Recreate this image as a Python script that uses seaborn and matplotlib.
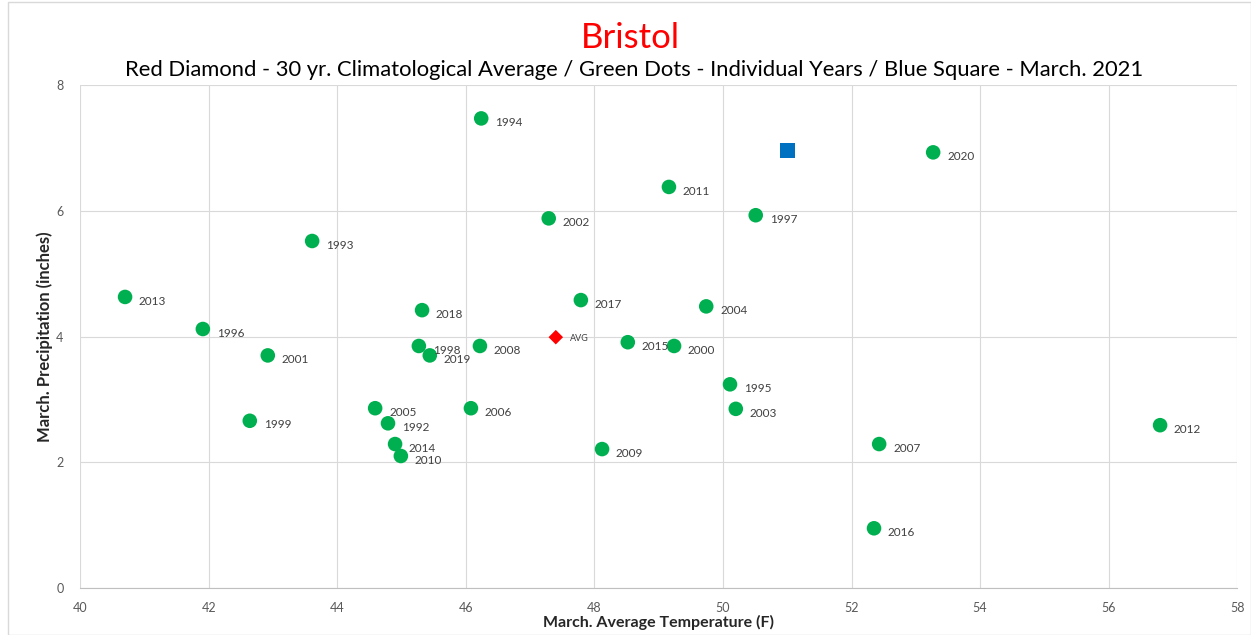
import numpy as np
import pandas as pd
import matplotlib
matplotlib.use("Agg")
import matplotlib.pyplot as plt
import seaborn as sns

# individual years (March avg temp F, March precip inches)
years = [1994, 2020, 2011, 1997, 2002, 1993, 2013, 2017, 2004, 2018, 1996,
         2015, 1998, 2008, 2000, 2019, 2001, 1995, 2006, 2005, 2003, 1999,
         1992, 2012, 2014, 2007, 2009, 2010, 2016]
temps = [46.24, 53.27, 49.16, 50.51, 47.29, 43.61, 40.70, 47.79, 49.74, 45.32, 41.91,
         48.52, 45.27, 46.22, 49.24, 45.44, 42.92, 50.11, 46.08, 44.59, 50.20, 42.64,
         44.79, 56.80, 44.90, 52.43, 48.12, 44.99, 52.35]
precip = [7.47, 6.93, 6.38, 5.93, 5.88, 5.52, 4.63, 4.58, 4.48, 4.42, 4.12,
          3.91, 3.85, 3.85, 3.85, 3.70, 3.70, 3.24, 2.86, 2.86, 2.85, 2.66,
          2.62, 2.59, 2.29, 2.29, 2.21, 2.10, 0.95]

avg_temp, avg_precip = 47.40, 3.99
cur_temp, cur_precip = 51.0, 6.96

x_ticks = list(range(40, 59, 2))
y_ticks = [0, 2, 4, 6, 8]

df = pd.DataFrame({"temp": temps, "precip": precip, "year": years})

sns.set_style("white")
plt.rcParams["font.family"] = ["Lato", "DejaVu Sans"]

fig, ax = plt.subplots(figsize=(12.51, 6.35), dpi=100)
fig.subplots_adjust(left=0.064, right=0.989, top=0.866, bottom=0.074)

sns.scatterplot(data=df, x="temp", y="precip", ax=ax, color="#00B050",
                s=110, edgecolor="none", zorder=3)
sns.scatterplot(x=[avg_temp], y=[avg_precip], ax=ax, color="#FF0000",
                marker="D", s=55, edgecolor="none", zorder=3)
sns.scatterplot(x=[cur_temp], y=[cur_precip], ax=ax, color="#0070C0",
                marker="s", s=110, edgecolor="none", zorder=3)

for t, p, yr in zip(temps, precip, years):
    ax.annotate(str(yr), (t, p), xytext=(10, -3), textcoords="offset points",
                fontsize=8.5, color="#404040", va="center")
ax.annotate("AVG", (avg_temp, avg_precip), xytext=(10, -1), textcoords="offset points",
            fontsize=6.5, color="#404040", va="center")

ax.set_xlim(40, 58)
ax.set_ylim(0, 8)
ax.set_xticks(x_ticks)
ax.set_yticks(y_ticks)
ax.tick_params(axis="both", labelsize=9, colors="#595959", length=0, pad=12)
ax.tick_params(axis="x", pad=10)
ax.grid(True, color="#D9D9D9", linewidth=0.8)
ax.set_axisbelow(True)
for side in ["top", "right", "left"]:
    ax.spines[side].set_visible(False)
ax.spines["bottom"].set_color("#BFBFBF")

ax.set_xlabel("March. Average Temperature (F)", fontsize=11.5, fontweight="bold",
              color="#262626", labelpad=1)
ax.set_ylabel("March. Precipitation (inches)", fontsize=12, fontweight="bold",
              color="#262626", labelpad=2)

fig.text(0.504, 0.94, "Bristol", color="#FF0000", fontsize=25, ha="center", va="center")
fig.text(0.507, 0.889, "Red Diamond - 30 yr. Climatological Average / Green Dots - Individual Years / Blue Square - March. 2021",
         color="#000000", fontsize=15.8, ha="center", va="center")

fig.patches.append(plt.Rectangle((0.006, 0.0), 0.994, 0.997, transform=fig.transFigure,
                                 fill=False, edgecolor="#D9D9D9", linewidth=1))

fig.savefig("out.png", dpi=100)
